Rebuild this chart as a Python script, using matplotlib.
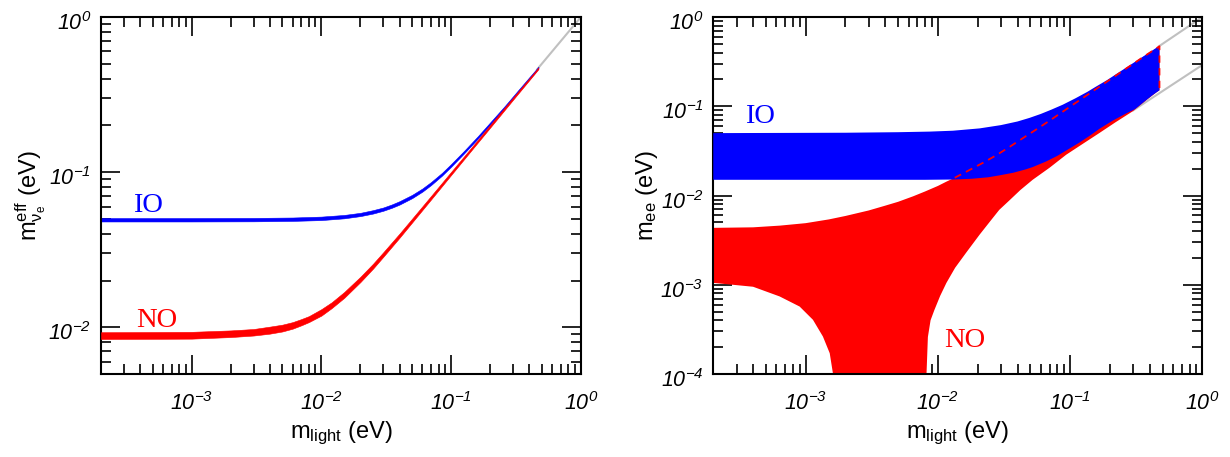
import numpy as np
import matplotlib
matplotlib.use("Agg")
import matplotlib.pyplot as plt
from matplotlib.ticker import LogLocator, FuncFormatter, NullFormatter
from matplotlib.transforms import ScaledTranslation

plt.rcParams["font.family"] = ["Liberation Sans", "DejaVu Sans"]
plt.rcParams["mathtext.fontset"] = "custom"
plt.rcParams["mathtext.rm"] = "Liberation Sans"
plt.rcParams["mathtext.it"] = "Liberation Sans:italic"
# sf is only used for the italic decade labels on the axes
plt.rcParams["mathtext.sf"] = "Liberation Sans:italic"

# ---- left panel: effective electron neutrino mass, lower / upper edge of each band
m_no_eff = [2e-4, 1e-3, 2e-3, 3e-3, 4e-3, 5e-3, 6e-3, 7e-3, 8e-3, 1e-2, 1.2e-2, 1.5e-2,
            2e-2, 2.5e-2, 3e-2, 4e-2, 5e-2, 7e-2, 0.1, 0.15, 0.2, 0.3, 0.47]
no_eff_lo = [0.0084, 0.00845, 0.00865, 0.00885, 0.0091, 0.0094, 0.0098, 0.0103, 0.0108,
             0.0119, 0.0133, 0.0155, 0.0196, 0.0239, 0.0285, 0.0378, 0.0474, 0.0667,
             0.0960, 0.1450, 0.1940, 0.2930, 0.4610]
no_eff_hi = [0.0093, 0.00935, 0.00955, 0.00975, 0.0101, 0.0104, 0.0108, 0.0113, 0.0118,
             0.0131, 0.0145, 0.0169, 0.0212, 0.0257, 0.0305, 0.0402, 0.0502, 0.0703,
             0.1006, 0.1510, 0.2020, 0.3030, 0.4730]

m_io_eff = [2e-4, 1e-3, 3e-3, 6e-3, 1e-2, 1.5e-2, 2e-2, 2.5e-2, 3e-2, 3.5e-2, 4e-2, 5e-2,
            6e-2, 7e-2, 8.5e-2, 0.1, 0.125, 0.16, 0.2, 0.26, 0.33, 0.4, 0.47]
io_eff_lo = [0.0481, 0.0481, 0.0482, 0.0485, 0.0491, 0.0504, 0.0521, 0.0541, 0.0564,
             0.0590, 0.0618, 0.0680, 0.0749, 0.0826, 0.0950, 0.1085, 0.1315, 0.1640,
             0.2025, 0.2600, 0.3290, 0.3970, 0.4660]
io_eff_hi = [0.0506, 0.0506, 0.0507, 0.0510, 0.0517, 0.0530, 0.0547, 0.0569, 0.0592,
             0.0620, 0.0650, 0.0714, 0.0785, 0.0864, 0.0990, 0.1129, 0.1365, 0.1700,
             0.2095, 0.2680, 0.3390, 0.4090, 0.4780]

gray_left_m = [0.46, 1.0]
gray_left_y = [0.46, 1.0]

# ---- right panel: m_ee allowed regions
no_top_m = [2e-4, 4e-4, 6.4e-4, 1e-3, 1.5e-3, 2e-3, 3e-3, 4e-3, 5e-3, 6.5e-3, 8e-3, 1e-2,
            1.16e-2, 1.34e-2, 1.7e-2, 2.2e-2, 2.77e-2, 3.5e-2, 4.4e-2, 5.5e-2, 7e-2,
            8.8e-2, 0.11, 0.14, 0.18, 0.23, 0.281, 0.36, 0.474]
no_top_ee = [0.00434, 0.00440, 0.0046, 0.0049, 0.0054, 0.0059, 0.0068, 0.0077, 0.0085,
             0.0098, 0.0111, 0.0128, 0.0143, 0.0158, 0.0190, 0.0233, 0.0283, 0.0352,
             0.0440, 0.0545, 0.0690, 0.0870, 0.1090, 0.1390, 0.1790, 0.2290, 0.2800,
             0.3590, 0.4700]

no_low_m = [0.0080, 0.0082, 0.0084, 0.0088, 0.0094, 0.0104, 0.0116, 0.0135, 0.0164,
            0.0207, 0.0250, 0.0291, 0.0347, 0.0420, 0.0521, 0.070, 0.0933, 0.125,
            0.1667, 0.22, 0.298, 0.38, 0.449, 0.474]
no_low_ee = [3e-5, 1e-4, 2.6e-4, 4.0e-4, 5.2e-4, 7.5e-4, 1.05e-3, 1.55e-3, 2.3e-3,
             3.65e-3, 5.2e-3, 6.9e-3, 8.8e-3, 0.0115, 0.0150, 0.0205, 0.0286, 0.0380,
             0.0502, 0.0660, 0.0879, 0.1180, 0.1430, 0.1510]

no_left_m = [2e-4, 4e-4, 6.35e-4, 9.0e-4, 1.135e-3, 1.35e-3, 1.52e-3, 1.61e-3, 1.66e-3]
no_left_ee = [1.05e-3, 0.95e-3, 7.4e-4, 5.7e-4, 4.05e-4, 2.63e-4, 1.71e-4, 1.0e-4, 3e-5]

io_top_m = [2e-4, 2e-3, 5e-3, 8.65e-3, 1.3e-2, 2.07e-2, 3e-2, 4e-2, 4.92e-2, 6e-2, 7.2e-2,
            8.79e-2, 0.11, 0.135, 0.157, 0.19, 0.23, 0.281, 0.35, 0.41, 0.474]
io_top_ee = [0.0500, 0.0505, 0.0512, 0.0520, 0.0532, 0.0565, 0.0615, 0.0675, 0.0740,
             0.0820, 0.0915, 0.1040, 0.1230, 0.1450, 0.1660, 0.1960, 0.2360, 0.2860,
             0.3540, 0.4130, 0.4760]

io_bot_m = [2e-4, 8e-3, 1.3e-2, 1.8e-2, 2.4e-2, 2.91e-2, 3.72e-2, 4.6e-2, 5.2e-2, 6.6e-2,
            8e-2, 9.3e-2, 0.117, 0.14, 0.167, 0.21, 0.265, 0.31, 0.376, 0.42, 0.474]
io_bot_ee = [0.0150, 0.0150, 0.0151, 0.0154, 0.0160, 0.0168, 0.0180, 0.0196, 0.0208,
             0.0241, 0.0278, 0.0318, 0.0390, 0.0465, 0.0560, 0.0690, 0.0830, 0.0930,
             0.1170, 0.1330, 0.1510]

gray_up_m = [0.47, 1.0]
gray_up_y = [0.47, 1.0]
gray_low_m = [0.3, 1.0]
gray_low_y = [0.09, 0.29]

x_range = (2e-4, 1.0)


def decade_label(v, pos):
    return r"$\mathsf{10^{%d}}$" % int(round(np.log10(v)))


def style_axis(ax):
    ax.set_xscale("log")
    ax.set_yscale("log")
    for a in (ax.xaxis, ax.yaxis):
        a.set_major_locator(LogLocator(base=10, numticks=20))
        a.set_minor_locator(LogLocator(base=10, subs=np.arange(2, 10), numticks=20))
        a.set_major_formatter(FuncFormatter(decade_label))
        a.set_minor_formatter(NullFormatter())
    ax.tick_params(which="both", direction="in", top=True, right=True, width=1.2)
    ax.tick_params(which="major", length=14, labelsize=15.5)
    ax.tick_params(axis="x", which="major", pad=13)
    ax.tick_params(axis="y", which="major", pad=7)
    ax.tick_params(which="minor", length=7)
    for s in ax.spines.values():
        s.set_linewidth(1.5)
    ax.set_xlim(*x_range)
    ax.set_xlabel(r"m$_{\mathrm{light}}$ (eV)", fontsize=17, labelpad=3)


def nudge_ylabels(ax):
    # the decade labels sit a little below their tick in the original
    shift = ScaledTranslation(0, -3 / 72, fig.dpi_scale_trans)
    for lab in ax.get_yticklabels():
        lab.set_transform(lab.get_transform() + shift)


fig = plt.figure(figsize=(12.3, 4.57), dpi=100)
ax1 = fig.add_axes([0.0821, 0.1816, 0.3902, 0.7812])
ax2 = fig.add_axes([0.5799, 0.1816, 0.3976, 0.7812])

# left panel
ax1.plot(gray_left_m, gray_left_y, color="#c0c0c0", lw=1.5, zorder=1)
ax1.fill_between(m_io_eff, io_eff_lo, io_eff_hi, color="blue", lw=0.4, zorder=2)
ax1.fill_between(m_no_eff, no_eff_lo, no_eff_hi, color="red", lw=0.4, zorder=3)
style_axis(ax1)
ax1.set_ylim(5e-3, 1.0)
ax1.set_ylabel(r"m$_{\mathrm{ν}_{\mathrm{e}}}^{\mathrm{eff}}$ (eV)", fontsize=17, labelpad=0)
ax1.text(3.5e-4, 0.0557, "IO", color="blue", fontsize=20.5, family="Liberation Serif")
ax1.text(3.7e-4, 0.0100, "NO", color="red", fontsize=20.5, family="Liberation Serif")

# right panel
ax2.plot(gray_up_m, gray_up_y, color="#c0c0c0", lw=1.5, zorder=1)
ax2.plot(gray_low_m, gray_low_y, color="#c0c0c0", lw=1.5, zorder=1)
no_x = no_top_m + no_low_m[::-1] + no_left_m[::-1]
no_y = no_top_ee + no_low_ee[::-1] + no_left_ee[::-1]
ax2.fill(no_x, no_y, color="red", lw=0, zorder=2)
io_x = io_top_m + io_bot_m[::-1]
io_y = io_top_ee + io_bot_ee[::-1]
ax2.fill(io_x, io_y, color="blue", lw=0, zorder=3)
# NO outline where it is hidden under the IO band
dash_m = [m for m in no_top_m if m >= 0.0134] + [no_low_m[-1]]
dash_y = [y for m, y in zip(no_top_m, no_top_ee) if m >= 0.0134] + [no_low_ee[-1]]
ax2.plot(dash_m, dash_y, color="red", lw=1.3, ls=(0, (4, 3)), zorder=4)
style_axis(ax2)
ax2.set_ylim(1e-4, 1.0)
ax2.set_ylabel(r"m$_{\mathrm{ee}}$ (eV)", fontsize=17, labelpad=0)
ax2.text(3.45e-4, 0.0656, "IO", color="blue", fontsize=20.5, family="Liberation Serif")
ax2.text(0.0112, 2.0e-4, "NO", color="red", fontsize=20.5, family="Liberation Serif")

nudge_ylabels(ax1)
nudge_ylabels(ax2)

fig.savefig("out.png", dpi=100)
